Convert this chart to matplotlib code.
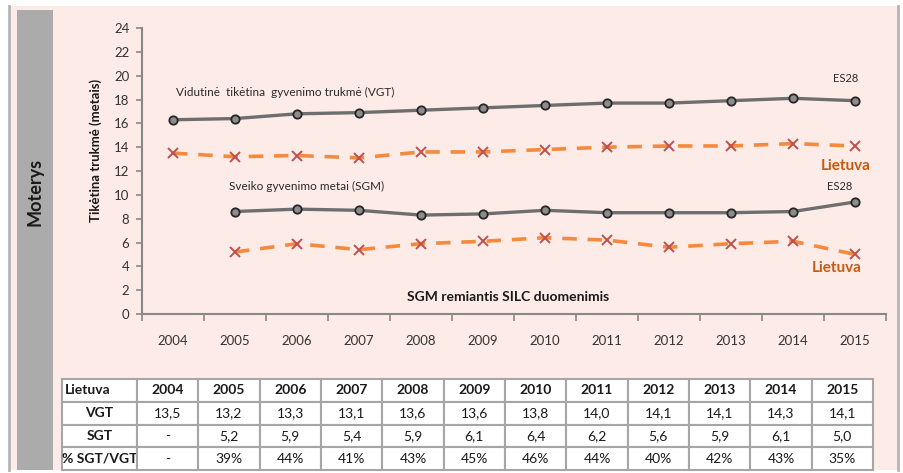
import matplotlib.pyplot as plt
import numpy as np
from matplotlib.patches import Rectangle

years = [2004, 2005, 2006, 2007, 2008, 2009, 2010, 2011, 2012, 2013, 2014, 2015]

# ES28
es_vgt = [16.3, 16.4, 16.8, 16.9, 17.1, 17.3, 17.5, 17.7, 17.7, 17.9, 18.1, 17.9]
es_sgm = [np.nan, 8.6, 8.8, 8.7, 8.3, 8.4, 8.7, 8.5, 8.5, 8.5, 8.6, 9.4]

# Lietuva (from table)
lt_vgt = [13.5, 13.2, 13.3, 13.1, 13.6, 13.6, 13.8, 14.0, 14.1, 14.1, 14.3, 14.1]
lt_sgt = [np.nan, 5.2, 5.9, 5.4, 5.9, 6.1, 6.4, 6.2, 5.6, 5.9, 6.1, 5.0]
lt_pct = ["-", "39%", "44%", "41%", "43%", "45%", "46%", "44%", "40%", "42%", "43%", "35%"]

plt.rcParams['font.family'] = ['Lato', 'DejaVu Sans']

pink = '#fdebe7'
gray_line = '#6e6e6e'
orange = '#f58a3c'
cross = '#c0504d'
brown = '#c55a11'

fig = plt.figure(figsize=(9.04, 4.73), dpi=100)
fig.patch.set_facecolor('white')

# panel background and borders
fig.add_artist(Rectangle((9 / 904, 3 / 473), 889 / 904, 464 / 473, transform=fig.transFigure,
                         facecolor=pink, edgecolor='none', zorder=0))
fig.add_artist(plt.Line2D([8.5 / 904, 8.5 / 904], [3 / 473, 467 / 473], transform=fig.transFigure,
                          color='#b5b5b5', lw=2))
fig.add_artist(plt.Line2D([898 / 904, 898 / 904], [3 / 473, 467 / 473], transform=fig.transFigure,
                          color='#b5b5b5', lw=2))
# gray side band
fig.add_artist(Rectangle((17 / 904, 3 / 473), 36 / 904, 460 / 473, transform=fig.transFigure,
                         facecolor='#ababab', edgecolor='none', zorder=1))
fig.text(35 / 904, 1 - 192 / 473, 'Moterys', rotation=90, ha='center', va='center',
         fontsize=13, fontweight='bold', color='#1a1a1a')
fig.text(96 / 904, 1 - 150 / 473, 'Tikėtina trukmė (metais)', rotation=90, ha='center', va='center',
         fontsize=9.5, fontweight='bold', color='#1a1a1a')

ax = fig.add_axes([142 / 904, 1 - 314 / 473, 744 / 904, 286 / 473])
ax.set_facecolor('none')
x = np.arange(len(years))

ax.plot(x, es_vgt, color=gray_line, lw=2.4, marker='o', ms=6, mfc='#8c8c8c', mec='#262626', mew=1.3, zorder=3)
ax.plot(x, es_sgm, color=gray_line, lw=2.4, marker='o', ms=6, mfc='#8c8c8c', mec='#262626', mew=1.3, zorder=3)
ax.plot(x, lt_vgt, color=orange, lw=2.6, ls=(0, (4, 3)), marker='x', ms=7, mec=cross, mew=1.4, zorder=3)
ax.plot(x, lt_sgt, color=orange, lw=2.6, ls=(0, (4, 3)), marker='x', ms=7, mec=cross, mew=1.4, zorder=3)

ax.set_xlim(-0.5, len(years) - 0.5)
ax.set_ylim(0, 24)
ax.set_yticks(range(0, 25, 2))
ax.set_xticks(x)
ax.set_xticklabels(years)
ax.set_xticks(np.arange(-0.5, len(years)), minor=True)
ax.tick_params(axis='x', which='major', length=0, pad=15, labelsize=9.5, labelcolor='#333333')
ax.tick_params(axis='x', which='minor', length=5, color='#888888', width=1.2)
ax.tick_params(axis='y', length=4, color='#888888', width=1.2, labelsize=9.5, labelcolor='#333333', pad=5)
for s in ['top', 'right']:
    ax.spines[s].set_visible(False)
for s in ['left', 'bottom']:
    ax.spines[s].set_color('#888888')
    ax.spines[s].set_linewidth(1.5)

ax.text(0.05, 18.6, 'Vidutinė  tikėtina  gyvenimo trukmė (VGT)', fontsize=8.5, color='#2a2a2a', va='center')
ax.text(0.9, 10.7, 'Sveiko gyvenimo metai (SGM)', fontsize=8.5, color='#2a2a2a', va='center')
ax.text(10.85, 19.8, 'ES28', fontsize=8, color='#2a2a2a', ha='center', va='center')
ax.text(10.75, 10.7, 'ES28', fontsize=8, color='#2a2a2a', ha='center', va='center')
ax.text(10.85, 12.45, 'Lietuva', fontsize=11, fontweight='bold', color=brown, ha='center', va='center')
ax.text(10.7, 3.85, 'Lietuva', fontsize=11, fontweight='bold', color=brown, ha='center', va='center')
ax.text(5.4, 1.45, 'SGM remiantis SILC duomenimis', fontsize=10, fontweight='bold', color='#1a1a1a',
        ha='center', va='center')

# table
def fmt(v):
    return '-' if np.isnan(v) else f'{v:.1f}'.replace('.', ',')

rows = [['Lietuva'] + [str(y) for y in years],
        ['VGT'] + [fmt(v) for v in lt_vgt],
        ['SGT'] + [fmt(v) for v in lt_sgt],
        ['% SGT/VGT'] + lt_pct]

tax = fig.add_axes([62 / 904, 3 / 473, 811 / 904, 91 / 473])
tax.axis('off')
first_w = 75 / 811
other_w = (1 - first_w) / len(years)
tbl = tax.table(cellText=rows, bbox=[0, 0, 1, 1], cellLoc='center',
                colWidths=[first_w] + [other_w] * len(years))
tbl.auto_set_font_size(False)
for (r, c), cell in tbl.get_celld().items():
    cell.set_edgecolor('#a6a6a6')
    cell.set_linewidth(1.5)
    cell.set_facecolor('white')
    t = cell.get_text()
    t.set_fontsize(10)
    t.set_color('#1a1a1a')
    if r == 0 or c == 0:
        t.set_fontweight('bold')
    if r == 0 and c == 0:
        t.set_ha('left')
        cell.PAD = 0.04

fig.savefig('out.png', dpi=100, facecolor='white')
